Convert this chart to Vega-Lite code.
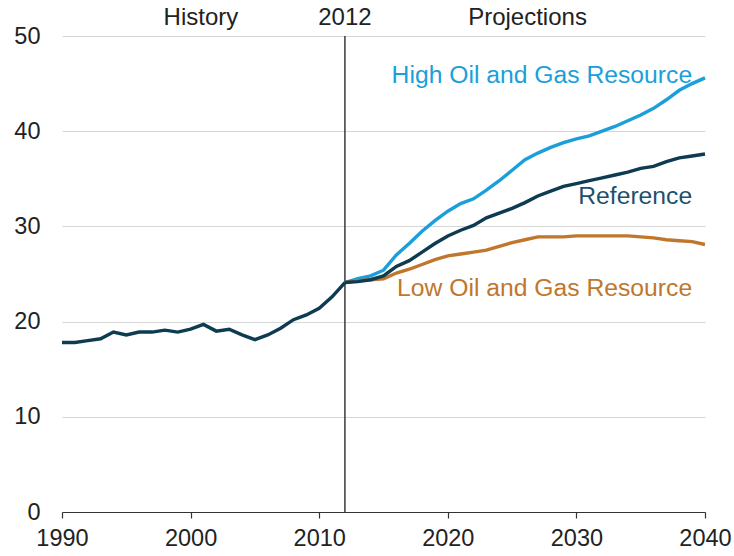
{
  "$schema": "https://vega.github.io/schema/vega-lite/v6.json",
  "width": 643,
  "height": 476,
  "autosize": {"type": "none"},
  "padding": {"left": 62, "top": 36, "right": 29, "bottom": 44},
  "config": {
    "view": {"stroke": null},
    "font": "Liberation Sans",
    "axis": {"labelFont": "Liberation Sans", "labelFontSize": 23.5, "labelColor": "#222222", "title": null}
  },
  "datasets": {
    "series": [
      {"year": 1990, "series": "History", "value": 17.8},
      {"year": 1991, "series": "History", "value": 17.8},
      {"year": 1992, "series": "History", "value": 18.0},
      {"year": 1993, "series": "History", "value": 18.2},
      {"year": 1994, "series": "History", "value": 18.9},
      {"year": 1995, "series": "History", "value": 18.6},
      {"year": 1996, "series": "History", "value": 18.9},
      {"year": 1997, "series": "History", "value": 18.9},
      {"year": 1998, "series": "History", "value": 19.1},
      {"year": 1999, "series": "History", "value": 18.9},
      {"year": 2000, "series": "History", "value": 19.2},
      {"year": 2001, "series": "History", "value": 19.7},
      {"year": 2002, "series": "History", "value": 19.0},
      {"year": 2003, "series": "History", "value": 19.2},
      {"year": 2004, "series": "History", "value": 18.6},
      {"year": 2005, "series": "History", "value": 18.1},
      {"year": 2006, "series": "History", "value": 18.6},
      {"year": 2007, "series": "History", "value": 19.3},
      {"year": 2008, "series": "History", "value": 20.2},
      {"year": 2009, "series": "History", "value": 20.7},
      {"year": 2010, "series": "History", "value": 21.4},
      {"year": 2011, "series": "History", "value": 22.6},
      {"year": 2012, "series": "History", "value": 24.1},

      {"year": 2012, "series": "High", "value": 24.1},
      {"year": 2013, "series": "High", "value": 24.5},
      {"year": 2014, "series": "High", "value": 24.8},
      {"year": 2015, "series": "High", "value": 25.4},
      {"year": 2016, "series": "High", "value": 27.0},
      {"year": 2017, "series": "High", "value": 28.2},
      {"year": 2018, "series": "High", "value": 29.5},
      {"year": 2019, "series": "High", "value": 30.6},
      {"year": 2020, "series": "High", "value": 31.6},
      {"year": 2021, "series": "High", "value": 32.4},
      {"year": 2022, "series": "High", "value": 32.9},
      {"year": 2023, "series": "High", "value": 33.8},
      {"year": 2024, "series": "High", "value": 34.8},
      {"year": 2025, "series": "High", "value": 35.9},
      {"year": 2026, "series": "High", "value": 37.0},
      {"year": 2027, "series": "High", "value": 37.7},
      {"year": 2028, "series": "High", "value": 38.3},
      {"year": 2029, "series": "High", "value": 38.8},
      {"year": 2030, "series": "High", "value": 39.2},
      {"year": 2031, "series": "High", "value": 39.5},
      {"year": 2032, "series": "High", "value": 40.0},
      {"year": 2033, "series": "High", "value": 40.5},
      {"year": 2034, "series": "High", "value": 41.1},
      {"year": 2035, "series": "High", "value": 41.7},
      {"year": 2036, "series": "High", "value": 42.4},
      {"year": 2037, "series": "High", "value": 43.3},
      {"year": 2038, "series": "High", "value": 44.3},
      {"year": 2039, "series": "High", "value": 45.0},
      {"year": 2040, "series": "High", "value": 45.6},

      {"year": 2012, "series": "Low", "value": 24.1},
      {"year": 2013, "series": "Low", "value": 24.3},
      {"year": 2014, "series": "Low", "value": 24.4},
      {"year": 2015, "series": "Low", "value": 24.5},
      {"year": 2016, "series": "Low", "value": 25.1},
      {"year": 2017, "series": "Low", "value": 25.5},
      {"year": 2018, "series": "Low", "value": 26.0},
      {"year": 2019, "series": "Low", "value": 26.5},
      {"year": 2020, "series": "Low", "value": 26.9},
      {"year": 2021, "series": "Low", "value": 27.1},
      {"year": 2022, "series": "Low", "value": 27.3},
      {"year": 2023, "series": "Low", "value": 27.5},
      {"year": 2024, "series": "Low", "value": 27.9},
      {"year": 2025, "series": "Low", "value": 28.3},
      {"year": 2026, "series": "Low", "value": 28.6},
      {"year": 2027, "series": "Low", "value": 28.9},
      {"year": 2028, "series": "Low", "value": 28.9},
      {"year": 2029, "series": "Low", "value": 28.9},
      {"year": 2030, "series": "Low", "value": 29.0},
      {"year": 2031, "series": "Low", "value": 29.0},
      {"year": 2032, "series": "Low", "value": 29.0},
      {"year": 2033, "series": "Low", "value": 29.0},
      {"year": 2034, "series": "Low", "value": 29.0},
      {"year": 2035, "series": "Low", "value": 28.9},
      {"year": 2036, "series": "Low", "value": 28.8},
      {"year": 2037, "series": "Low", "value": 28.6},
      {"year": 2038, "series": "Low", "value": 28.5},
      {"year": 2039, "series": "Low", "value": 28.4},
      {"year": 2040, "series": "Low", "value": 28.1},

      {"year": 2012, "series": "Reference", "value": 24.1},
      {"year": 2013, "series": "Reference", "value": 24.2},
      {"year": 2014, "series": "Reference", "value": 24.4},
      {"year": 2015, "series": "Reference", "value": 24.8},
      {"year": 2016, "series": "Reference", "value": 25.8},
      {"year": 2017, "series": "Reference", "value": 26.4},
      {"year": 2018, "series": "Reference", "value": 27.3},
      {"year": 2019, "series": "Reference", "value": 28.2},
      {"year": 2020, "series": "Reference", "value": 29.0},
      {"year": 2021, "series": "Reference", "value": 29.6},
      {"year": 2022, "series": "Reference", "value": 30.1},
      {"year": 2023, "series": "Reference", "value": 30.9},
      {"year": 2024, "series": "Reference", "value": 31.4},
      {"year": 2025, "series": "Reference", "value": 31.9},
      {"year": 2026, "series": "Reference", "value": 32.5},
      {"year": 2027, "series": "Reference", "value": 33.2},
      {"year": 2028, "series": "Reference", "value": 33.7},
      {"year": 2029, "series": "Reference", "value": 34.2},
      {"year": 2030, "series": "Reference", "value": 34.5},
      {"year": 2031, "series": "Reference", "value": 34.8},
      {"year": 2032, "series": "Reference", "value": 35.1},
      {"year": 2033, "series": "Reference", "value": 35.4},
      {"year": 2034, "series": "Reference", "value": 35.7},
      {"year": 2035, "series": "Reference", "value": 36.1},
      {"year": 2036, "series": "Reference", "value": 36.3},
      {"year": 2037, "series": "Reference", "value": 36.8},
      {"year": 2038, "series": "Reference", "value": 37.2},
      {"year": 2039, "series": "Reference", "value": 37.4},
      {"year": 2040, "series": "Reference", "value": 37.6}
    ],
    "labels": [
      {"label": "High Oil and Gas Resource", "series": "High", "year": 2039, "value": 45.8},
      {"label": "Reference", "series": "Reference", "year": 2039, "value": 33.1},
      {"label": "Low Oil and Gas Resource", "series": "Low", "year": 2039, "value": 23.4}
    ],
    "headers": [
      {"label": "History", "year": 2000.8, "value": 51.9},
      {"label": "2012", "year": 2012, "value": 51.9},
      {"label": "Projections", "year": 2026.2, "value": 51.9}
    ],
    "marker": [
      {"year": 2012, "lo": 0, "hi": 50}
    ]
  },
  "layer": [
    {
      "data": {"name": "marker"},
      "mark": {"type": "rule", "color": "#3a3a3a", "strokeWidth": 1.5},
      "encoding": {
        "x": {"field": "year", "type": "quantitative", "scale": {"domain": [1990, 2040], "nice": false, "zero": false},
          "axis": {"values": [1990, 2000, 2010, 2020, 2030, 2040], "format": "d", "grid": false, "domainColor": "#333333", "domainWidth": 1.2, "tickColor": "#333333", "tickSize": 6, "tickWidth": 1.2, "labelPadding": 8, "labelFlush": false}},
        "y": {"field": "lo", "type": "quantitative", "scale": {"domain": [0, 50], "nice": false},
          "axis": {"values": [0, 10, 20, 30, 40, 50], "domain": false, "ticks": false, "gridColor": "#d6d6d6", "gridWidth": 1.2, "labelPadding": 22}},
        "y2": {"field": "hi"}
      }
    },
    {
      "data": {"name": "series"},
      "transform": [{"filter": "datum.series === 'High'"}],
      "mark": {"type": "line", "color": "#1a9fdb", "strokeWidth": 3.4},
      "encoding": {
        "x": {"field": "year", "type": "quantitative"},
        "y": {"field": "value", "type": "quantitative"}
      }
    },
    {
      "data": {"name": "series"},
      "transform": [{"filter": "datum.series === 'Low'"}],
      "mark": {"type": "line", "color": "#c0762c", "strokeWidth": 3.4},
      "encoding": {
        "x": {"field": "year", "type": "quantitative"},
        "y": {"field": "value", "type": "quantitative"}
      }
    },
    {
      "data": {"name": "series"},
      "transform": [{"filter": "datum.series === 'Reference' || datum.series === 'History'"}],
      "mark": {"type": "line", "color": "#0c3b52", "strokeWidth": 3.4},
      "encoding": {
        "x": {"field": "year", "type": "quantitative"},
        "y": {"field": "value", "type": "quantitative"},
        "detail": {"field": "series"}
      }
    },
    {
      "data": {"name": "labels"},
      "mark": {"type": "text", "align": "right", "baseline": "middle", "fontSize": 24.7, "font": "Liberation Sans"},
      "encoding": {
        "x": {"field": "year", "type": "quantitative"},
        "y": {"field": "value", "type": "quantitative"},
        "text": {"field": "label"},
        "color": {"field": "series", "type": "nominal", "scale": {"domain": ["High", "Reference", "Low"], "range": ["#1a9fdb", "#1f506b", "#c0762c"]}, "legend": null}
      }
    },
    {
      "data": {"name": "headers"},
      "mark": {"type": "text", "align": "center", "baseline": "middle", "fontSize": 24, "font": "Liberation Sans", "color": "#222222"},
      "encoding": {
        "x": {"field": "year", "type": "quantitative"},
        "y": {"field": "value", "type": "quantitative"},
        "text": {"field": "label"}
      }
    }
  ]
}
